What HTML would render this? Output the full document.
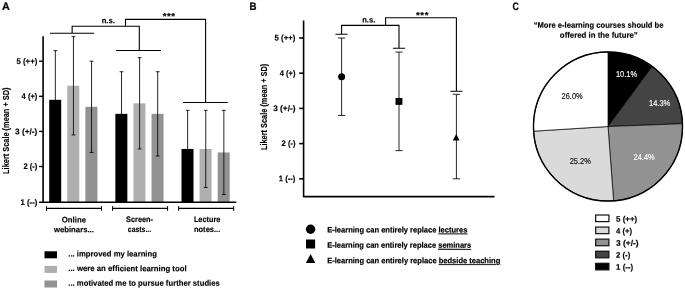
<!DOCTYPE html>
<html><head><meta charset="utf-8"><title>Figure</title>
<style>
html,body{margin:0;padding:0;background:#fff;}
body{width:685px;height:290px;overflow:hidden;}
svg{display:block;}
text{font-family:"Liberation Sans",sans-serif;fill:#000;}
.b{font-weight:bold;stroke:#000;stroke-width:0.2px;}
.t{font-size:8.1px;font-weight:bold;stroke:#000;stroke-width:0.15px;}
.l{stroke:#000;stroke-width:1.1;fill:none;}
.e{stroke:#000;stroke-width:0.85;fill:none;}
</style></head><body>
<svg width="685" height="290" viewBox="0 0 685 290">
<rect width="685" height="290" fill="#fff"/>

<text transform="translate(2 9.9) rotate(0.03) scale(1 1)" class="b" text-anchor="start" font-size="10.8">A</text>
<rect x="49.20" y="99.81" width="12" height="102.39" fill="#000"/>
<path class="e" d="M55.35 50.67V148.95M53.45 50.67h3.8M53.45 148.95h3.8"/>
<rect x="67.30" y="85.77" width="12" height="116.43" fill="#afafaf"/>
<path class="e" d="M73.45 36.63V134.91M71.55 36.63h3.8M71.55 134.91h3.8"/>
<rect x="85.40" y="106.83" width="12" height="95.37" fill="#929292"/>
<path class="e" d="M91.55 61.20V152.46M89.65 61.20h3.8M89.65 152.46h3.8"/>
<rect x="115.35" y="113.85" width="12" height="88.35" fill="#000"/>
<path class="e" d="M121.50 71.73V155.97M119.60 71.73h3.8M119.60 155.97h3.8"/>
<rect x="133.45" y="103.32" width="12" height="98.88" fill="#afafaf"/>
<path class="e" d="M139.60 57.69V148.95M137.70 57.69h3.8M137.70 148.95h3.8"/>
<rect x="151.55" y="113.85" width="12" height="88.35" fill="#929292"/>
<path class="e" d="M157.70 71.73V155.97M155.80 71.73h3.8M155.80 155.97h3.8"/>
<rect x="181.50" y="148.95" width="12" height="53.25" fill="#000"/>
<path class="e" d="M187.65 110.34V187.56M185.75 110.34h3.8M185.75 187.56h3.8"/>
<rect x="199.60" y="148.95" width="12" height="53.25" fill="#afafaf"/>
<path class="e" d="M205.75 110.34V187.56M203.85 110.34h3.8M203.85 187.56h3.8"/>
<rect x="217.70" y="152.46" width="12" height="49.74" fill="#929292"/>
<path class="e" d="M223.85 110.34V194.58M221.95 110.34h3.8M221.95 194.58h3.8"/>
<path d="M43.1 36.3V202.9" stroke="#000" stroke-width="1.6" fill="none"/>
<path d="M39.1 202.2H236.3" stroke="#000" stroke-width="1.5" fill="none"/>
<path d="M39.1 61.20H43.1" stroke="#000" stroke-width="1.4"/>
<text transform="translate(37.3 63.95) rotate(0.03)" class="t" text-anchor="end" textLength="20.8" lengthAdjust="spacingAndGlyphs">5 (++)</text>
<path d="M39.1 96.30H43.1" stroke="#000" stroke-width="1.4"/>
<text transform="translate(37.3 99.05) rotate(0.03)" class="t" text-anchor="end" textLength="15.7" lengthAdjust="spacingAndGlyphs">4 (+)</text>
<path d="M39.1 131.40H43.1" stroke="#000" stroke-width="1.4"/>
<text transform="translate(37.3 134.15) rotate(0.03)" class="t" text-anchor="end" textLength="22.2" lengthAdjust="spacingAndGlyphs">3 (+/-)</text>
<path d="M39.1 166.50H43.1" stroke="#000" stroke-width="1.4"/>
<text transform="translate(37.3 169.25) rotate(0.03)" class="t" text-anchor="end" textLength="13.8" lengthAdjust="spacingAndGlyphs">2 (-)</text>
<text transform="translate(37.3 204.95) rotate(0.03)" class="t" text-anchor="end" textLength="16.7" lengthAdjust="spacingAndGlyphs">1 (--)</text>
<path d="M46.50 208.45H101.50" stroke="#000" stroke-width="1.3"/><path d="M46.50 206.1v4.8M101.50 206.1v4.8" stroke="#000" stroke-width="1"/>
<path d="M112.60 208.45H167.60" stroke="#000" stroke-width="1.3"/><path d="M112.60 206.1v4.8M167.60 206.1v4.8" stroke="#000" stroke-width="1"/>
<path d="M178.70 208.45H233.70" stroke="#000" stroke-width="1.3"/><path d="M178.70 206.1v4.8M233.70 206.1v4.8" stroke="#000" stroke-width="1"/>
<text transform="translate(73.9 222.4) rotate(0.03)" class="t" text-anchor="middle" textLength="24.2" lengthAdjust="spacingAndGlyphs">Online</text>
<text transform="translate(73.9 232.3) rotate(0.03)" class="t" text-anchor="middle" textLength="40.0" lengthAdjust="spacingAndGlyphs">webinars...</text>
<text transform="translate(139.5 222.4) rotate(0.03)" class="t" text-anchor="middle" textLength="26.8" lengthAdjust="spacingAndGlyphs">Screen-</text>
<text transform="translate(139.5 232.3) rotate(0.03)" class="t" text-anchor="middle" textLength="23.4" lengthAdjust="spacingAndGlyphs">casts...</text>
<text transform="translate(207.1 222.4) rotate(0.03)" class="t" text-anchor="middle" textLength="26.4" lengthAdjust="spacingAndGlyphs">Lecture</text>
<text transform="translate(207.1 232.3) rotate(0.03)" class="t" text-anchor="middle" textLength="26.4" lengthAdjust="spacingAndGlyphs">notes...</text>
<path class="l" d="M50 33.2H94.2M72.15 33.2V26.3H139.3V50.5M116.1 50.5H161M125.5 26.3V19.35H205.6V102.5M183.1 102.5H227.8"/>
<text transform="translate(108.3 23.2) rotate(0.03) scale(0.95 1)" class="t" text-anchor="middle">n.s.</text>
<text x="162.7" y="19.3" class="b" font-size="9.6" letter-spacing="0.6">***</text>
<text transform="translate(9.1 173.9) rotate(-90)" class="t" text-anchor="start" textLength="86.4" lengthAdjust="spacingAndGlyphs" style="font-size:8.3px">Likert Scale (mean + SD)</text>
<rect x="44.5" y="251.30" width="12.5" height="7" fill="#000"/>
<text transform="translate(68.3 256.5) rotate(0.03)" class="t" text-anchor="start" textLength="88.6" lengthAdjust="spacingAndGlyphs">... improved my learning</text>
<rect x="44.5" y="265.90" width="12.5" height="7" fill="#afafaf"/>
<text transform="translate(68.3 271.1) rotate(0.03)" class="t" text-anchor="start" textLength="118.3" lengthAdjust="spacingAndGlyphs">... were an efficient learning tool</text>
<rect x="44.5" y="280.50" width="12.5" height="7" fill="#929292"/>
<text transform="translate(68.3 285.7) rotate(0.03)" class="t" text-anchor="start" textLength="151.5" lengthAdjust="spacingAndGlyphs">... motivated me to pursue further studies</text>
<text transform="translate(249.4 9.9) rotate(0.03) scale(0.9 1)" class="b" text-anchor="start" font-size="10.8">B</text>
<path d="M303.6 20.4V196.65H494.5" stroke="#000" stroke-width="1.6" fill="none" stroke-linejoin="round"/>
<path d="M299.2 38.00H303.6" stroke="#000" stroke-width="1.6"/>
<text transform="translate(295.4 40.5) rotate(0.03)" class="t" text-anchor="end" textLength="20.8" lengthAdjust="spacingAndGlyphs">5 (++)</text>
<path d="M299.2 73.20H303.6" stroke="#000" stroke-width="1.6"/>
<text transform="translate(295.4 75.7) rotate(0.03)" class="t" text-anchor="end" textLength="15.7" lengthAdjust="spacingAndGlyphs">4 (+)</text>
<path d="M299.2 108.40H303.6" stroke="#000" stroke-width="1.6"/>
<text transform="translate(295.4 110.9) rotate(0.03)" class="t" text-anchor="end" textLength="22.2" lengthAdjust="spacingAndGlyphs">3 (+/-)</text>
<path d="M299.2 143.60H303.6" stroke="#000" stroke-width="1.6"/>
<text transform="translate(295.4 146.1) rotate(0.03)" class="t" text-anchor="end" textLength="13.8" lengthAdjust="spacingAndGlyphs">2 (-)</text>
<path d="M299.2 178.80H303.6" stroke="#000" stroke-width="1.6"/>
<text transform="translate(295.4 181.3) rotate(0.03)" class="t" text-anchor="end" textLength="16.7" lengthAdjust="spacingAndGlyphs">1 (--)</text>
<text transform="translate(267.2 150.1) rotate(-90)" class="t" text-anchor="start" textLength="86.4" lengthAdjust="spacingAndGlyphs" style="font-size:8.3px">Likert Scale (mean + SD)</text>
<path class="e" d="M341.6 38.00V115.44M338.00 38.00h7.2M338.00 115.44h7.2"/>
<path class="e" d="M399 52.08V150.64M395.40 52.08h7.2M395.40 150.64h7.2"/>
<path class="e" d="M456.4 94.32V178.80M452.80 94.32h7.2M452.80 178.80h7.2"/>
<circle cx="341.6" cy="76.72" r="3.5"/>
<rect x="395.5" y="97.96" width="6.9" height="6.9"/>
<path d="M456.2 133.9L459.6 140.4H452.8Z"/>
<path class="l" d="M335.4 34.2H347.6M341.6 34.2V25.4H399V48.2M392.9 48.2H405.1M385.6 25.4V17.7H456.4V91.2M450.3 91.2H462.5"/>
<text transform="translate(368.8 22.6) rotate(0.03) scale(0.95 1)" class="t" text-anchor="middle">n.s.</text>
<text x="416" y="18.4" class="b" font-size="9.6" letter-spacing="0.6">***</text>
<circle cx="310.6" cy="229.2" r="4.7"/>
<rect x="306" y="239.5" width="9.1" height="9"/>
<path d="M310.6 254L315.3 262.9H305.9Z"/>
<text transform="translate(327.2 232.45) rotate(0.03)" class="b" font-size="8.0" textLength="140.2" lengthAdjust="spacingAndGlyphs">E-learning can entirely replace <tspan text-decoration="underline">lectures</tspan></text>
<text transform="translate(327.2 247.80) rotate(0.03)" class="b" font-size="8.0" textLength="144.0" lengthAdjust="spacingAndGlyphs">E-learning can entirely replace <tspan text-decoration="underline">seminars</tspan></text>
<text transform="translate(327.2 263.15) rotate(0.03)" class="b" font-size="8.0" textLength="173.1" lengthAdjust="spacingAndGlyphs">E-learning can entirely replace <tspan text-decoration="underline">bedside teaching</tspan></text>
<text transform="translate(512.6 10.0) rotate(0.03) scale(0.82 1)" class="b" text-anchor="start" font-size="10.8">C</text>
<text transform="translate(598.6 27.8) rotate(0.03)" class="t" text-anchor="middle" textLength="129.8" lengthAdjust="spacingAndGlyphs">“More e-learning courses should be</text>
<text transform="translate(598.8 37.8) rotate(0.03)" class="t" text-anchor="middle" textLength="77.9" lengthAdjust="spacingAndGlyphs">offered in the future”</text>
<path d="M608.0 126.5L608.00 51.95A74.55 74.55 0 0 1 652.20 66.46Z" fill="#000" stroke="#000" stroke-width="0.7"/>
<path d="M608.0 126.5L652.20 66.46A74.55 74.55 0 0 1 682.50 123.69Z" fill="#444" stroke="#000" stroke-width="0.7"/>
<path d="M608.0 126.5L682.50 123.69A74.55 74.55 0 0 1 613.62 200.84Z" fill="#929292" stroke="#000" stroke-width="0.7"/>
<path d="M608.0 126.5L613.62 200.84A74.55 74.55 0 0 1 533.60 131.18Z" fill="#dadada" stroke="#000" stroke-width="0.7"/>
<path d="M608.0 126.5L533.60 131.18A74.55 74.55 0 0 1 608.00 51.95Z" fill="#fff" stroke="#000" stroke-width="0.7"/>
<circle cx="608.0" cy="126.5" r="74.55" fill="none" stroke="#000" stroke-width="1.4"/>
<text transform="translate(626.5 76.9) rotate(0.03)" font-size="8.5" text-anchor="middle" textLength="21.2" lengthAdjust="spacingAndGlyphs" style="fill:#fff;stroke:#fff;stroke-width:0.12px">10.1%</text>
<text transform="translate(659.6 105.8) rotate(0.03)" font-size="8.5" text-anchor="middle" textLength="21.2" lengthAdjust="spacingAndGlyphs" style="fill:#fff;stroke:#fff;stroke-width:0.12px">14.3%</text>
<text transform="translate(644.1 160) rotate(0.03)" font-size="8.5" text-anchor="middle" textLength="21.2" lengthAdjust="spacingAndGlyphs" style="fill:#fff;stroke:#fff;stroke-width:0.12px">24.4%</text>
<text transform="translate(580.3 164.2) rotate(0.03)" font-size="8.5" text-anchor="middle" textLength="21.2" lengthAdjust="spacingAndGlyphs" style="fill:#000;stroke:#000;stroke-width:0.12px">25.2%</text>
<text transform="translate(572.1 99.2) rotate(0.03)" font-size="8.5" text-anchor="middle" textLength="21.2" lengthAdjust="spacingAndGlyphs" style="fill:#000;stroke:#000;stroke-width:0.12px">26.0%</text>
<rect x="595.66" y="215.00" width="13.24" height="6.6" fill="#fff" stroke="#111" stroke-width="1.2"/>
<text transform="translate(616.1 221.8) rotate(0.03)" class="t" text-anchor="start" textLength="21.1" lengthAdjust="spacingAndGlyphs">5 (++)</text>
<rect x="595.66" y="227.07" width="13.24" height="6.6" fill="#dadada" stroke="#111" stroke-width="1.2"/>
<text transform="translate(616.1 233.8) rotate(0.03)" class="t" text-anchor="start" textLength="16.0" lengthAdjust="spacingAndGlyphs">4 (+)</text>
<rect x="595.66" y="239.14" width="13.24" height="6.6" fill="#929292" stroke="#111" stroke-width="1.2"/>
<text transform="translate(616.1 245.8) rotate(0.03)" class="t" text-anchor="start" textLength="22.5" lengthAdjust="spacingAndGlyphs">3 (+/-)</text>
<rect x="595.66" y="251.21" width="13.24" height="6.6" fill="#444" stroke="#111" stroke-width="1.2"/>
<text transform="translate(616.1 257.8) rotate(0.03)" class="t" text-anchor="start" textLength="14.100000000000001" lengthAdjust="spacingAndGlyphs">2 (-)</text>
<rect x="595.66" y="263.28" width="13.24" height="6.6" fill="#000" stroke="#111" stroke-width="1.2"/>
<text transform="translate(616.1 269.8) rotate(0.03)" class="t" text-anchor="start" textLength="17.0" lengthAdjust="spacingAndGlyphs">1 (--)</text>
</svg></body></html>
